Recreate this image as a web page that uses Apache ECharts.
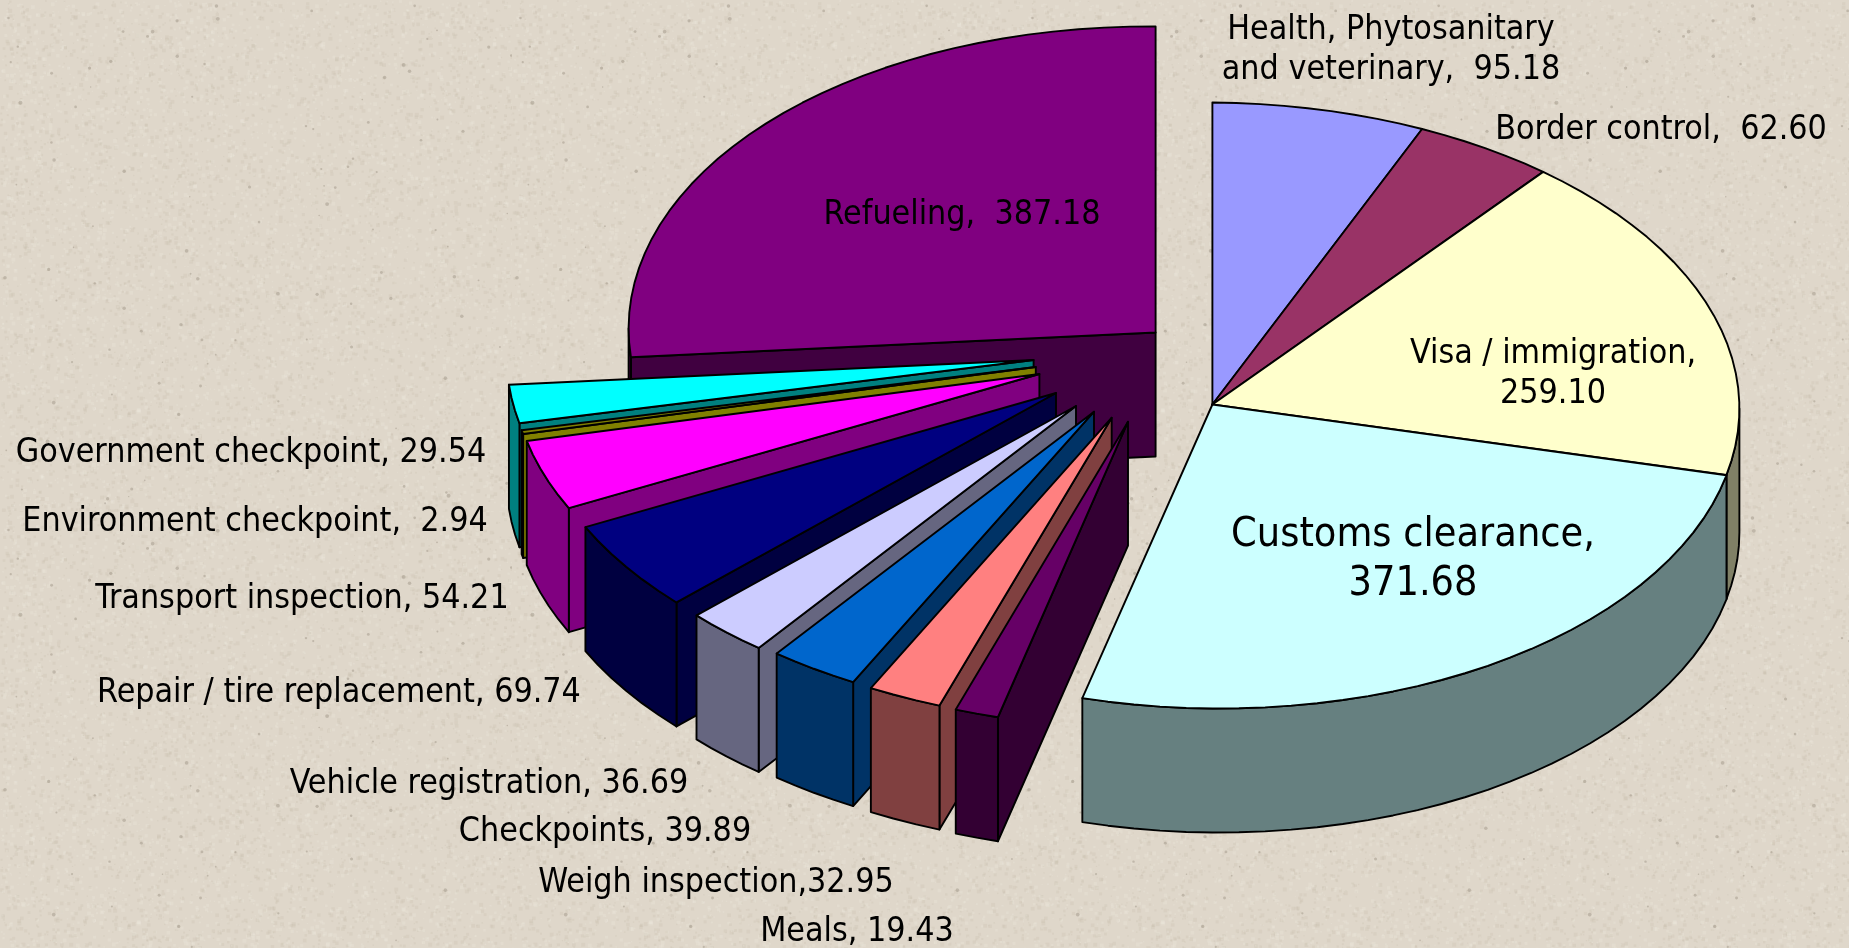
<!DOCTYPE html>
<html><head><meta charset="utf-8">
<style>html,body{margin:0;padding:0;background:#ded6c8}#c{width:1849px;height:948px}</style>
<script src="https://cdn.jsdelivr.net/npm/echarts@6/dist/echarts.min.js"></script>
</head><body><div id="c"></div>
<script>
// DATA — clockwise from 12 o'clock
const categories = ["Health, Phytosanitary\nand veterinary,  ","Border control,  ","Visa / immigration,\n","Customs clearance,\n","Meals, ","Weigh inspection,","Checkpoints, ","Vehicle registration, ","Repair / tire replacement, ","Transport inspection, ","Environment checkpoint,  ","Government checkpoint, ","Refueling,  "];
const values = [95.18,62.60,259.10,371.68,19.43,32.95,39.89,36.69,69.74,54.21,2.94,29.54,387.18];

// LAYOUT / STYLE
const topColors  = ["#9999FF","#993366","#FFFFCC","#CCFFFF","#660066","#FF8080","#0066CC","#CCCCFF","#000080","#FF00FF","#808000","#00FFFF","#800080"];
const sideColors = ["#666699","#662244","#808066","#668080","#330033","#804040","#003366","#666680","#000040","#800080","#808000","#008080","#400040"];
const apexX = [1212.4,1212.4,1212.4,1212.4,1128,1111.7,1094,1076,1056,1039.4,1035.8,1033.6,1155.6];
const apexY = [404.5,404.5,404.5,404.5,421.7,417.7,411.7,406,393,374,367,360,332.5];
const radiusY = [302,302,302,304,306,306,306,306,306,306,306,306,306];
const drawOrder = [12,11,10,9,8,7,6,5,4,0,1,2,3];
const labelX = [1391,1661,1553,1413,857,716,605,489,339,302,255,251,962];
const labelY = [50,130,374,560,932,883,832,784,693,599,522,453,215];
const labelSize = [33.7,33.7,33.7,41,33.7,33.7,33.7,33.7,33.7,33.7,33.7,33.7,33.7];
const labelLine = [40,40,40,49,40,40,40,40,40,40,40,40,40];
const RX = 527, DEPTH = 124, ROLL = 4;
const FONT = '"DejaVu Sans Condensed","DejaVu Sans",sans-serif';

const total = values.reduce((a,b)=>a+b,0);
const cum = []; values.reduce((s,v,i)=>(cum[i]=s, s+v),0);
const toA = v => v/total*Math.PI*2;
const P = (i,a,h) => [apexX[i]+Math.sin(a)*RX, apexY[i]-Math.cos(a)*radiusY[i]+Math.sin(a)*ROLL+(h||0)];
const arc = (i,a,b,h) => { const n=Math.max(1,Math.ceil(Math.abs(b-a)/0.05)), r=[];
  for(let k=0;k<=n;k++) r.push(P(i,a+(b-a)*k/n,h)); return r; };

function renderItem(params, api){
  const i = api.value(1), rank = drawOrder.indexOf(i);
  const a0 = toA(cum[i]), a1 = a0 + toA(api.value(0));
  const c = [apexX[i],apexY[i]], cb=[apexX[i],apexY[i]+DEPTH];
  const kids=[]; let z=rank*10;
  const poly=(pts,fill)=>kids.push({type:'polygon',z2:z++,shape:{points:pts},
     style:{fill,stroke:'#000',lineWidth:1.9,lineJoin:'round'}});
  if(Math.sin(a0)<-1e-6) poly([c,P(i,a0),P(i,a0,DEPTH),cb],sideColors[i]);
  if(Math.sin(a1)>1e-6) poly([c,P(i,a1),P(i,a1,DEPTH),cb],sideColors[i]);
  const lo=Math.max(a0,Math.PI/2), hi=Math.min(a1,Math.PI*1.5);
  if(lo<hi) poly(arc(i,lo,hi,0).concat(arc(i,hi,lo,DEPTH)),sideColors[i]);
  poly([c].concat(arc(i,a0,a1,0)),topColors[i]);
  return {type:'group',children:kids};
}
function labelItem(params, api){
  const i = api.value(1);
  return {type:'text',z2:1000,style:{text:categories[i]+api.value(0).toFixed(2),x:labelX[i],y:labelY[i],
    fill:'#000',align:'center',verticalAlign:'middle',fontFamily:FONT,fontSize:labelSize[i],lineHeight:labelLine[i]}};
}

// Background paper texture tile (decorative only)
function tile(){
  const s=512,t=document.createElement('canvas');t.width=t.height=s;const g=t.getContext('2d');
  g.fillStyle='#DFD7CA';g.fillRect(0,0,s,s);
  let seed=12345;const R=()=>(seed=(seed*16807)%2147483647)/2147483647;
  for(let k=0;k<9000;k++){const w=1+R()*3;g.fillStyle=R()<.5?'rgba(238,232,222,.28)':'rgba(196,186,170,.22)';g.fillRect(R()*s,R()*s,w,w);}
  for(let k=0;k<110;k++){g.fillStyle='rgba(145,135,120,.4)';g.beginPath();g.arc(R()*s,R()*s,.7+R()*1.3,0,7);g.fill();}
  return t;
}
const data = values.map((v,i)=>[v,i]);
const chart = echarts.init(document.getElementById('c'),null,{renderer:'canvas'});
chart.setOption({
  animation:false,
  backgroundColor:{image:tile(),repeat:'repeat'},
  series:[
    {type:'custom',coordinateSystem:'none',renderItem,data,silent:true},
    {type:'custom',coordinateSystem:'none',renderItem:labelItem,data,silent:true,z:5}
  ]
});
</script></body></html>
